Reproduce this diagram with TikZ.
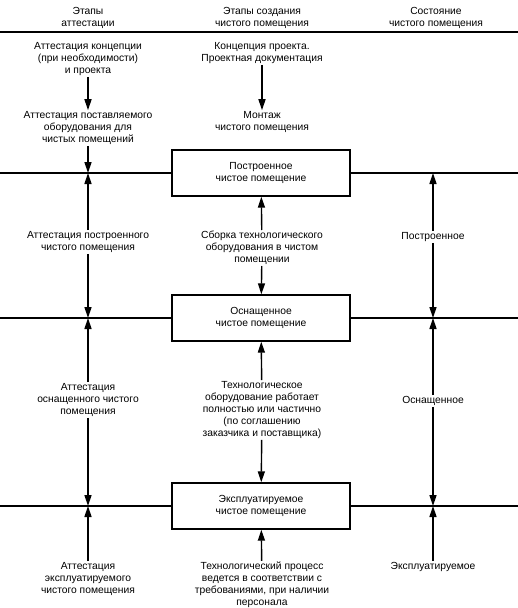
\documentclass[tikz,border=0pt]{standalone}
\usepackage{fontspec}
\setmainfont{Liberation Sans}
\usetikzlibrary{arrows.meta}
\begin{document}
\begin{tikzpicture}[x=1pt,y=-1pt,
  txt/.style={align=center,inner sep=1pt,font=\fontsize{10.3}{12}\selectfont},
  stbox/.style={draw,line width=1.4pt,minimum width=178pt,minimum height=46pt,align=center,inner sep=0pt,font=\fontsize{10.3}{12.5}\selectfont},
  hline/.style={line width=1.3pt},
  arr/.style={line width=1.4pt,-{Triangle[length=11pt,width=7pt]}}]
\useasboundingbox (0,0) rectangle (518,608);
% headers
\node[txt] (h1) at (88,18) {Этапы\\аттестации};
\node[txt] (h2) at (262,18) {Этапы создания\\чистого помещения};
\node[txt] (h3) at (436,18) {Состояние\\чистого помещения};
\coordinate (tl) at (0,32);
\coordinate (tr) at (518,32);
\draw[line width=2pt] (tl) -- (tr);
% boxes
\node[stbox] (B1) at (261,173) {Построенное\\чистое помещение};
\node[stbox] (B2) at (261,318) {Оснащенное\\чистое помещение};
\node[stbox] (B3) at (261,506) {Эксплуатируемое\\чистое помещение};
% line coordinates
\coordinate (L1) at (0,173); \coordinate (R1) at (518,173);
\coordinate (L2) at (0,318); \coordinate (R2) at (518,318);
\coordinate (L3) at (0,506); \coordinate (R3) at (518,506);
\coordinate (c1) at (88,173); \coordinate (c2) at (88,318); \coordinate (c3) at (88,506);
\coordinate (d1) at (433,173); \coordinate (d2) at (433,318); \coordinate (d3) at (433,506);
\draw[hline] (L1) -- (B1.west) (B1.east) -- (R1);
\draw[hline] (L2) -- (B2.west) (B2.east) -- (R2);
\draw[hline] (L3) -- (B3.west) (B3.east) -- (R3);
% left column
\node[txt] (a1) at (88,59) {Аттестация концепции\\(при необходимости)\\и проекта};
\node[txt] (a2) at (88,128) {Аттестация поставляемого\\оборудования для\\чистых помещений};
\node[txt] (a3) at (88,242) {Аттестация построенного\\чистого помещения};
\node[txt] (a4) at (88,400) {Аттестация\\оснащенного чистого\\помещения};
\node[txt] (a5) at (88,579) {Аттестация\\эксплуатируемого\\чистого помещения};
\draw[arr] (a1) -- (a2);
\draw[arr] (a2) -- (c1);
\draw[arr] (a3) -- (c1);
\draw[arr] (a3) -- (c2);
\draw[arr] (a4) -- (c2);
\draw[arr] (a4) -- (c3);
\draw[arr] (a5) -- (c3);
% middle column
\node[txt] (m1) at (262,53) {Концепция проекта.\\Проектная документация};
\node[txt] (m2) at (262,122) {Монтаж\\чистого помещения};
\node[txt] (m3) at (262,248) {Сборка технологического\\оборудования в чистом\\помещении};
\node[txt] (m4) at (262,410) {Технологическое\\оборудование работает\\полностью или частично\\(по соглашению\\заказчика и поставщика)};
\node[txt] (m5) at (262,585) {Технологический процесс\\ведется в соответствии с\\требованиями, при наличии\\персонала};
\draw[arr] (m1) -- (m2);
\draw[arr] (m3) -- (B1);
\draw[arr] (m3) -- (B2);
\draw[arr] (m4) -- (B2);
\draw[arr] (m4) -- (B3);
\draw[arr] (m5) -- (B3);
% right column
\node[txt] (r1) at (433,237) {Построенное};
\node[txt] (r2) at (433,401) {Оснащенное};
\node[txt] (r3) at (433,567) {Эксплуатируемое};
\draw[arr] (r1) -- (d1);
\draw[arr] (r1) -- (d2);
\draw[arr] (r2) -- (d2);
\draw[arr] (r2) -- (d3);
\draw[arr] (r3) -- (d3);
\end{tikzpicture}
\end{document}
